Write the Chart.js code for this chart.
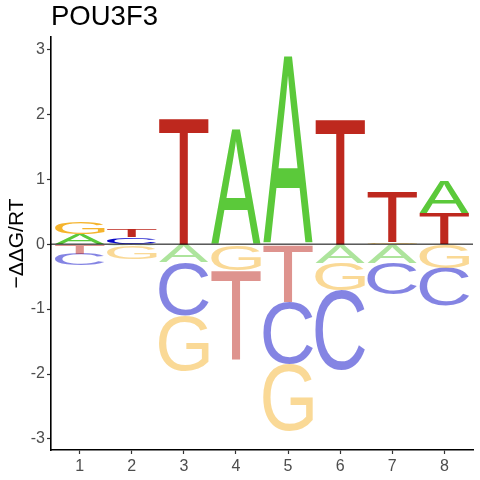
<!DOCTYPE html>
<html>
<head>
<meta charset="utf-8">
<script src="https://cdn.jsdelivr.net/npm/chart.js@4"></script>
<style>
html,body{margin:0;padding:0;background:#fff;}
#wrap{width:480px;height:480px;}
</style>
</head>
<body>
<div id="wrap"><canvas id="c" width="480" height="480"></canvas></div>
<script>
const positions = [1, 2, 3, 4, 5, 6, 7, 8];
const letters = ['A', 'C', 'G', 'T'];
const valA = [0.16, -0.03, -0.28, 1.77, 2.90, -0.29, -0.29, 0.49];
const valC = [-0.18, 0.11, -0.82, 0.00, -0.96, -1.23, -0.48, -0.58];
const valG = [0.18, -0.20, -0.85, -0.40, -1.03, -0.42, 0.03, -0.37];
const valT = [-0.15, 0.12, 1.96, -1.37, -0.89, 1.94, 0.77, 0.48];
const yTicks = [-3, -2, -1, 0, 1, 2, 3];
const titleText = 'POU3F3';
const yLabel = '\u2212\u0394\u0394G/RT';

const colors = {
  A: [91, 201, 58],
  C: [10, 10, 200],
  G: [245, 180, 45],
  T: [190, 40, 30]
};
const values = { A: valA, C: valC, G: valG, T: valT };

// build stacked floating ranges per letter
const ranges = { A: [], C: [], G: [], T: [] };
positions.forEach((p, i) => {
  const pos = letters.filter(l => values[l][i] > 0).sort((a, b) => values[a][i] - values[b][i]);
  const neg = letters.filter(l => values[l][i] < 0).sort((a, b) => values[b][i] - values[a][i]);
  let top = 0;
  pos.forEach(l => { ranges[l].push({ x: p, y: [top, top + values[l][i]] }); top += values[l][i]; });
  let bot = 0;
  neg.forEach(l => { ranges[l].push({ x: p, y: [bot + values[l][i], bot] }); bot += values[l][i]; });
});

function drawLetter(ctx, ch, color, x0, y0, w, h) {
  if (h < 0.4 || w < 0.4) return;
  ctx.save();
  ctx.font = '200px "Liberation Sans"';
  ctx.textAlign = 'left';
  ctx.textBaseline = 'alphabetic';
  const m = ctx.measureText(ch);
  const gw = m.actualBoundingBoxLeft + m.actualBoundingBoxRight;
  const gh = m.actualBoundingBoxAscent + m.actualBoundingBoxDescent;
  ctx.translate(x0, y0);
  ctx.scale(w / gw, h / gh);
  ctx.fillStyle = color;
  ctx.fillText(ch, m.actualBoundingBoxLeft, m.actualBoundingBoxAscent);
  ctx.restore();
}

const logoPlugin = {
  id: 'logo',
  afterDatasetsDraw(chart) {
    const ctx = chart.ctx;
    chart.data.datasets.forEach((ds, di) => {
      const meta = chart.getDatasetMeta(di);
      const l = ds.label;
      const c = colors[l];
      meta.data.forEach((el, j) => {
        const raw = ds.data[j];
        const negative = raw.y[1] <= 0;
        const col = negative ? `rgba(${c[0]},${c[1]},${c[2]},0.5)` : `rgb(${c[0]},${c[1]},${c[2]})`;
        const props = el.getProps(['x', 'y', 'base', 'width'], true);
        const top = Math.min(props.y, props.base);
        const h = Math.abs(props.base - props.y);
        drawLetter(ctx, l, col, props.x - props.width / 2, top, props.width, h);
      });
    });
    // zero line
    const ys = chart.scales.y;
    const y0 = ys.getPixelForValue(0);
    ctx.save();
    ctx.strokeStyle = '#000';
    ctx.lineWidth = 1;
    ctx.beginPath();
    ctx.moveTo(chart.chartArea.left, y0);
    ctx.lineTo(chart.chartArea.right, y0);
    ctx.stroke();
    ctx.restore();
  }
};

const datasets = letters.map(l => ({
  label: l,
  data: ranges[l],
  backgroundColor: 'rgba(0,0,0,0)',
  borderWidth: 0,
  grouped: false,
  barPercentage: 0.95,
  categoryPercentage: 1.0
}));

new Chart(document.getElementById('c'), {
  type: 'bar',
  data: { datasets },
  plugins: [logoPlugin],
  options: {
    responsive: false,
    animation: false,
    devicePixelRatio: 1,
    layout: { padding: { left: 0, right: 7, top: 0, bottom: 0 } },
    plugins: {
      legend: { display: false },
      tooltip: { enabled: false },
      title: {
        display: true,
        text: titleText,
        align: 'start',
        fullSize: false,
        color: '#000',
        font: { family: '"Liberation Sans", Arial, sans-serif', size: 27.5, weight: 'normal', lineHeight: 1.2 },
        padding: { top: 1, bottom: 3 }
      }
    },
    scales: {
      x: {
        type: 'linear',
        min: 0.45,
        max: 8.55,
        offset: false,
        afterBuildTicks: s => { s.ticks = positions.map(v => ({ value: v })); },
        afterFit: s => { s.height = 30; },
        grid: { display: true, offset: false, drawOnChartArea: false, drawTicks: true, tickLength: 4, tickColor: '#333', tickWidth: 1.2 },
        border: { display: true, color: '#000', width: 1.6 },
        ticks: {
          color: '#4D4D4D',
          padding: 3,
          font: { family: '"Liberation Sans", Arial, sans-serif', size: 16 },
          callback: v => String(v)
        }
      },
      y: {
        type: 'linear',
        min: -3.17,
        max: 3.19,
        afterBuildTicks: s => { s.ticks = yTicks.map(v => ({ value: v })); },
        afterFit: s => { s.width = 51; },
        grid: { display: true, offset: false, drawOnChartArea: false, drawTicks: true, tickLength: 4, tickColor: '#333', tickWidth: 1.2 },
        border: { display: true, color: '#000', width: 1.6 },
        ticks: {
          color: '#4D4D4D',
          padding: 2,
          font: { family: '"Liberation Sans", Arial, sans-serif', size: 16 },
          callback: v => String(v)
        },
        title: {
          display: true,
          text: yLabel,
          color: '#000',
          font: { family: '"Liberation Sans", Arial, sans-serif', size: 21 },
          padding: { top: 5, bottom: 0 }
        }
      }
    }
  }
});
</script>
</body>
</html>
